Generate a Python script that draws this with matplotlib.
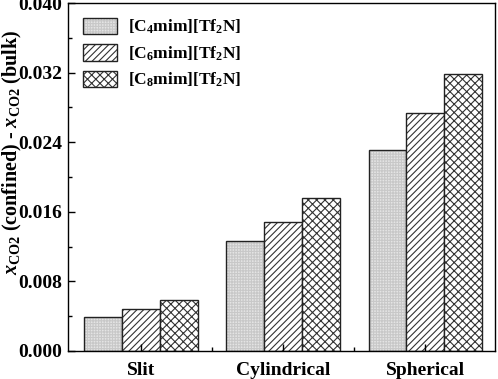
import numpy as np
import matplotlib
matplotlib.use("Agg")
import matplotlib.pyplot as plt
from matplotlib.ticker import MultipleLocator, FixedLocator, FormatStrFormatter

plt.rcParams["font.family"] = "Liberation Serif"
plt.rcParams["font.weight"] = "bold"
plt.rcParams["mathtext.fontset"] = "custom"
plt.rcParams["mathtext.rm"] = "Liberation Serif:bold"
plt.rcParams["mathtext.it"] = "Liberation Serif:bold:italic"
plt.rcParams["mathtext.bf"] = "Liberation Serif:bold"
plt.rcParams["hatch.linewidth"] = 0.8

# ---- data ----
geometries = ["Slit", "Cylindrical", "Spherical"]
liquids = ["[C$_4$mim][Tf$_2$N]", "[C$_6$mim][Tf$_2$N]", "[C$_8$mim][Tf$_2$N]"]
c4 = [0.0039, 0.0126, 0.0231]
c6 = [0.0048, 0.0148, 0.0274]
c8 = [0.0059, 0.0176, 0.0318]

series = [c4, c6, c8]
hatches = ["++++++", "/////", "xxxx"]
faces = ["#e4e4e4", "white", "white"]
hatch_cols = ["#c8c8c8", "#333333", "#333333"]

fig = plt.figure(figsize=(4.98, 3.79), dpi=100)
ax = fig.add_axes([0.1365, 0.074, 0.858, 0.918])

x = np.arange(1, len(geometries) + 1)
w = 0.8 / 3
handles = []
for i, (vals, lab) in enumerate(zip(series, liquids)):
    fill = ax.bar(x + (i - 1) * w, vals, w, facecolor=faces[i],
                  edgecolor=hatch_cols[i], hatch=hatches[i], linewidth=0)
    # outline drawn separately so hatch colour can differ
    edge = ax.bar(x + (i - 1) * w, vals, w, facecolor="none",
                  edgecolor="#222222", linewidth=1.0)
    handles.append((fill, edge))

ax.set_xlim(0.49, 3.49)
ax.set_ylim(0, 0.040)
ax.set_xticks(x)
ax.set_xticklabels(geometries, fontsize=14, fontweight="bold")
ax.xaxis.set_minor_locator(FixedLocator([1.5, 2.5]))
ax.yaxis.set_major_locator(MultipleLocator(0.008))
ax.yaxis.set_minor_locator(MultipleLocator(0.004))
ax.yaxis.set_major_formatter(FormatStrFormatter("%.3f"))
ax.tick_params(axis="both", which="both", direction="in", labelsize=14)
ax.tick_params(which="major", length=5, width=1.0)
ax.tick_params(which="minor", length=3, width=1.0)
ax.tick_params(axis="x", pad=8)
ax.tick_params(axis="y", pad=4)
for t in ax.get_yticklabels():
    t.set_fontweight("bold")
for s in ax.spines.values():
    s.set_linewidth(1.0)

ax.set_ylabel(r"$x_{\rm CO2}$ (confined) - $x_{\rm CO2}$ (bulk)",
              fontsize=14.5, fontweight="bold", va="center")
ax.yaxis.set_label_coords(-0.13, 0.572)

ax.legend(handles=handles, labels=liquids, loc="upper left", frameon=False,
          fontsize=12.5, handlelength=2.0, handleheight=1.1,
          labelspacing=0.45, handletextpad=0.6, borderaxespad=0.5,
          borderpad=0.35)

fig.savefig("out.png", dpi=100)
